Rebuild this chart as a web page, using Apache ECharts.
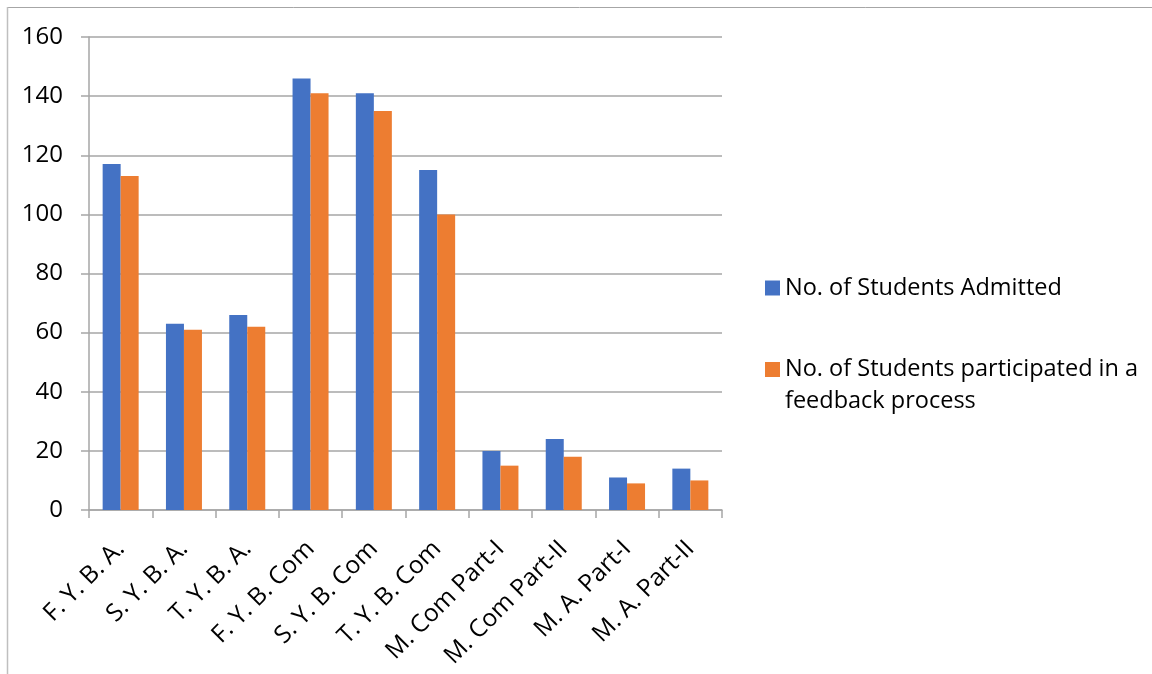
<!DOCTYPE html>
<html>
<head>
<meta charset="utf-8">
<script src="https://cdn.jsdelivr.net/npm/echarts@6/dist/echarts.min.js"></script>
<style>html,body{margin:0;padding:0;background:#fff}#c{width:1152px;height:674px}</style>
</head>
<body>
<div id="c"></div>
<script>
var categories = ['F. Y. B. A.', 'S. Y. B. A.', 'T. Y. B. A.', 'F. Y. B. Com', 'S. Y. B. Com', 'T. Y. B. Com', 'M. Com Part-I', 'M. Com Part-II', 'M. A. Part-I', 'M. A. Part-II'];
var admitted = [117, 63, 66, 146, 141, 115, 20, 24, 11, 14];
var participated = [113, 61, 62, 141, 135, 100, 15, 18, 9, 10];
var seriesNames = ['No. of Students Admitted', 'No. of Students participated in a feedback process'];

var FONT = '"Open Sans", "Noto Sans", sans-serif';
var chart = echarts.init(document.getElementById('c'));
chart.setOption({
  animation: false,
  backgroundColor: '#fff',
  grid: { left: 89, right: 430, top: 37, bottom: 164, containLabel: false },
  graphic: [
    { type: 'line', shape: { x1: 7, y1: 7.5, x2: 1152, y2: 7.5 }, style: { stroke: '#a6a6a6', lineWidth: 1 } },
    { type: 'line', shape: { x1: 7.5, y1: 7, x2: 7.5, y2: 674 }, style: { stroke: '#bfbfbf', lineWidth: 1.5 } }
  ],
  legend: [
    {
      data: [seriesNames[0]],
      left: 760, top: 267,
      itemWidth: 15, itemHeight: 15,
      icon: 'rect',
      textStyle: { fontFamily: FONT, fontSize: 23.5, color: '#000', lineHeight: 32 }
    },
    {
      data: [seriesNames[1]],
      left: 760, top: 316.5,
      itemWidth: 15, itemHeight: 15,
      icon: 'rect',
      formatter: function () { return ' \nNo. of Students participated in a\nfeedback process'; },
      textStyle: { fontFamily: FONT, fontSize: 23.5, color: '#000', lineHeight: 32 }
    }
  ],
  xAxis: {
    type: 'category',
    data: categories,
    axisLine: { lineStyle: { color: '#a6a6a6', width: 1.5 } },
    axisTick: { show: true, length: 8, lineStyle: { color: '#a6a6a6', width: 1.5 } },
    axisLabel: { rotate: 45, margin: 35, fontFamily: FONT, fontSize: 24.5, color: '#000', interval: 0 }
  },
  yAxis: {
    type: 'value',
    min: 0, max: 160, interval: 20,
    axisLine: { show: true, lineStyle: { color: '#a6a6a6', width: 1.5 } },
    axisTick: { show: true, length: 8, lineStyle: { color: '#a6a6a6', width: 1.5 } },
    splitLine: { lineStyle: { color: '#a6a6a6', width: 1.5 } },
    axisLabel: { margin: 26, fontFamily: FONT, fontSize: 24, color: '#000' }
  },
  series: [
    { name: seriesNames[0], type: 'bar', data: admitted, barWidth: 18, barGap: '0%', itemStyle: { color: '#4472C4' } },
    { name: seriesNames[1], type: 'bar', data: participated, barWidth: 18, barGap: '0%', itemStyle: { color: '#ED7D31' } }
  ]
});
</script>
</body>
</html>
